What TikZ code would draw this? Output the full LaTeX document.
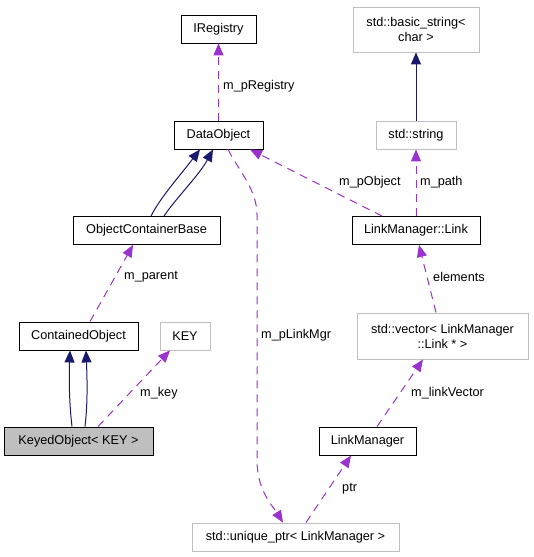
\documentclass[tikz,border=0pt]{standalone}
\usepackage{fontspec}
\setmainfont{Liberation Sans}
\usetikzlibrary{arrows.meta}
\definecolor{edgep}{HTML}{9A32CD}
\definecolor{navyc}{HTML}{191970}
\definecolor{lgray}{HTML}{BFBFBF}
\begin{document}
\begin{tikzpicture}[x=1pt,y=-1pt,
  box/.style={draw=black, line width=0.9pt, inner sep=0pt, font=\fontsize{12.7}{15}\selectfont, align=center, minimum height=28pt},
  gbox/.style={box, draw=lgray},
  dep/.style={draw=edgep, line width=1pt, dash pattern=on 8pt off 6pt, -{Triangle[length=12pt,width=10pt,fill=edgep]}},
  inh/.style={draw=navyc, line width=1pt, -{Triangle[length=12pt,width=10pt,fill=navyc]}},
  lbl/.style={font=\fontsize{12.7}{15}\selectfont, anchor=west, inner sep=0pt}
]
\useasboundingbox (0,0) rectangle (533,557);
% nodes
\node[box, minimum width=75pt] (ireg) at (218.5,29) {IRegistry};
\node[box, minimum width=89pt] (dobj) at (218.5,135) {DataObject};
\node[box, minimum width=147pt] (ocb) at (146.5,230.5) {ObjectContainerBase};
\node[box, minimum width=119pt] (cobj) at (78.5,336) {ContainedObject};
\node[gbox, minimum width=50pt] (key) at (185,336) {KEY};
\node[box, fill=lgray, minimum width=149pt] (keyed) at (78.5,441) {KeyedObject< KEY >};
\node[gbox, minimum width=207pt] (uptr) at (295.5,537) {std::unique\_ptr< LinkManager >};
\node[box, minimum width=97pt] (lm) at (367.5,441) {LinkManager};
\node[gbox, minimum width=171pt, minimum height=46pt] (vec) at (442.5,336) {std::vector< LinkManager\\::Link * >};
\node[box, minimum width=128pt] (link) at (416,230.5) {LinkManager::Link};
\node[gbox, minimum width=80pt] (str) at (416,135) {std::string};
\node[gbox, minimum width=126pt, minimum height=45pt] (bstr) at (416,29.5) {std::basic\_string<\\char >};
% edges
\draw[dep] (dobj.north) -- (ireg.south);
\node[lbl] (l1) at (223,86) {m\_pRegistry};
\draw[inh] ([xshift=4.5]ocb.north) .. controls +(9,-18) and +(-20,26) .. ([xshift=-18.5]dobj.south);
\draw[inh] ([xshift=17.5]ocb.north) .. controls +(12,-18) and +(-14,26) .. ([xshift=-5.5]dobj.south);
\draw[dep] ([xshift=-34]link.north) -- ([xshift=31.5]dobj.south);
\node[lbl] (l2) at (339,182) {m\_pObject};
\draw[dep] (link.north) -- (str.south);
\node[lbl] (l3) at (420,182) {m\_path};
\draw[inh] (str.north) -- (bstr.south);
\draw[dep] ([xshift=11.5]cobj.north) -- ([xshift=-13.5]ocb.south);
\node[lbl] (l4) at (124,277) {m\_parent};
\draw[inh] ([xshift=-6.5]keyed.north) .. controls +(-3,-25) and +(-1,25) .. ([xshift=-8.5]cobj.south);
\draw[inh] ([xshift=6.5]keyed.north) .. controls +(3,-25) and +(1,25) .. ([xshift=7.5]cobj.south);
\draw[dep] ([xshift=19.5]keyed.north) -- ([xshift=-15]key.south);
\node[lbl] (l5) at (140,393) {m\_key};
\draw[dep] ([xshift=9.5]dobj.south) .. controls +(12,23) and (257,190) .. (257,215) -- (257,460) .. controls (257,490) and (272,505) .. ([xshift=-12.5]uptr.north);
\node[lbl] (l6) at (261,335) {m\_pLinkMgr};
\draw[dep] ([xshift=-6.5]vec.north) -- ([xshift=3]link.south);
\node[lbl] (l7) at (433,277) {elements};
\draw[dep] ([xshift=9.5]lm.north) -- ([xshift=-19.5]vec.south);
\node[lbl] (l8) at (411,393) {m\_linkVector};
\draw[dep] ([xshift=10.5]uptr.north) -- ([xshift=-16.5]lm.south);
\node[lbl] (l9) at (342,489) {ptr};
\end{tikzpicture}
\end{document}
